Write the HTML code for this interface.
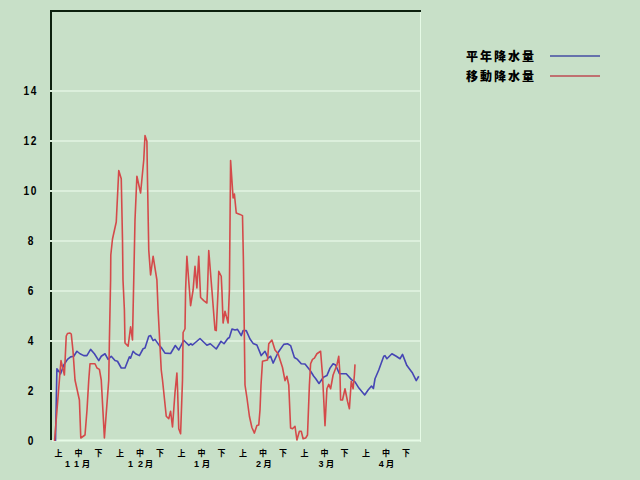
<!DOCTYPE html>
<html><head><meta charset="utf-8"><style>
html,body{margin:0;padding:0;background:#c8e0c8;width:640px;height:480px;overflow:hidden}
svg{display:block}
.yl{font-family:"Liberation Sans",sans-serif;font-weight:bold;font-size:12px;text-anchor:middle;fill:#000}
.xl{font-family:"Liberation Sans","Noto Sans CJK JP",sans-serif;font-weight:bold;font-size:8px;text-anchor:middle;fill:#000}
.md{font-family:"Liberation Sans",sans-serif;font-weight:bold;font-size:9px;text-anchor:middle;fill:#000}
.mo{font-family:"Liberation Sans","Noto Sans CJK JP",sans-serif;font-weight:bold;font-size:8.5px;text-anchor:middle;fill:#000}
.lg{font-family:"Liberation Sans","Noto Sans CJK JP",sans-serif;font-weight:900;font-size:12px;fill:#000;letter-spacing:2px}
</style></head><body>
<svg width="640" height="480" viewBox="0 0 640 480">
<rect width="640" height="480" fill="#c8e0c8"/>
<rect x="52" y="439.5" width="369" height="2" fill="#e6fae6"/>
<rect x="420" y="12" width="1" height="430" fill="#e6fae6"/>
<rect x="50" y="10" width="371" height="2" fill="#0c200e"/>
<rect x="50" y="10" width="2" height="430" fill="#0c200e"/>
<rect x="50" y="390" width="370" height="2" fill="#dcefdc"/><rect x="50" y="340" width="370" height="2" fill="#dcefdc"/><rect x="50" y="290" width="370" height="2" fill="#dcefdc"/><rect x="50" y="240" width="370" height="2" fill="#dcefdc"/><rect x="50" y="190" width="370" height="2" fill="#dcefdc"/><rect x="50" y="140" width="370" height="2" fill="#dcefdc"/><rect x="50" y="90" width="370" height="2" fill="#dcefdc"/>
<polyline points="55.5,441 56.9,368.8 60.6,373.8 63.75,365 67.5,359.4 70.6,356.9 73.75,356.25 76.9,351.25 80,353.75 83.75,355.6 86.9,355.6 90.6,349.4 94.4,353.75 98.75,360.6 101.25,356.25 105,353.75 108.1,359.4 111.25,356.25 115,360.6 117.5,361.25 121.25,368 125,368 129.4,356.9 130.6,358.1 133.1,351.25 135.6,353.75 139.4,355.6 143.1,348.75 145,348.1 148.75,336.25 150.6,335.6 153.1,340.6 155,339.4 159.4,345.6 161.25,347.5 165,353.1 170.6,353.5 175.3,345.5 178.75,350 183.75,340.3 188.75,345.3 190.6,343.75 192.5,345 200,338.5 206.9,345.3 210.3,343.75 216.25,349 221,341.25 224,343.75 227.8,338.5 229.4,337.5 232,329 235,330 237.5,329.4 241.25,335.6 243.1,330.6 246.25,330.6 250,339 253.1,343.4 256.9,345 261.25,355.6 265,351.25 268.1,358.1 270.6,356.25 273.1,363.1 278.1,352.5 283.75,344.4 287.5,343.75 290.6,345.6 294.4,357.5 297.5,359.4 301.25,363.75 305,364 310,370.3 313.75,376.25 315.6,378.5 319,383.5 323.4,377.2 326.9,375.6 330,368.1 333.1,363.75 335.6,365 339.4,373.75 346.25,373.75 351.5,379.6 355,381.9 358.9,388.1 364.7,395 368.1,390 371.5,386 373.4,388.5 375,378.75 378.75,370 383.75,356.25 385,355.6 386.9,358.75 391.9,353.75 396.25,356.25 400,358.75 402.5,354.4 406.9,365.6 412.5,373.1 416.25,380.6 418.75,376.25" fill="none" stroke="#4646b4" stroke-width="1.6" stroke-linejoin="round"/>
<polyline points="54.5,441 57,410 59.4,380 61,360.6 64.4,375 66.25,336 67.5,333.5 70,333 71.25,334 73,351 75,380 79.4,400 80.8,438 85,435 87,410 88.75,380 90,363.75 91.25,363.75 95,363.75 97,368 99.4,369.4 101.25,380 104.4,438 108.75,380 109.4,340 110.6,280 110.8,255 112.5,239 116.25,222 118.75,170.6 121.25,178.75 122.5,240 123,280 124.4,310 125,343 128.1,346.25 130.6,326.9 132.5,340 133.1,310 133.75,280 135,220 136.9,176.25 140.6,193 143.75,160 145,135.6 146.9,141.25 147.5,180 148.75,250 150.6,275 153.1,256.25 156.9,280 158.1,310 161.25,370 162.5,380 166.25,416.25 168.75,418.75 170.6,411.25 172.5,427 175,392.5 176.9,373.1 177.6,390 178.75,428.75 180.6,433.75 182.5,380 183.1,332.5 185,328.75 185.6,290 186.9,256.25 190.6,305.6 193.1,290 195,266.25 196.9,288 198.75,256.25 200.6,297.5 203.75,300.6 206.9,303 207.5,290 208.75,250.6 211.9,290 215,330 216.25,330.6 218.1,290 218.75,271.25 221.25,276.25 221.9,290 223.1,323 225,311.25 228.1,323 229.4,290 230.6,160.6 233.1,198 234.4,194 236.25,213 240,214.4 242.5,215.6 243.4,260 244.4,340 245,385 246.9,397.5 249.4,416.25 251.9,427.5 254.4,433.1 256.9,425.6 258.75,425 260,410 261,385 262.5,361.25 267.5,360 268.75,343.75 271.9,340 275,350 278.1,353.75 282.5,367.5 285,380.6 286.9,376.25 288.75,385 290.6,428 292.5,428.75 295,426.25 296.9,440 299.4,431.25 301.25,431.25 303.1,438.75 305.6,438.1 307.5,435 309.4,385 310.6,363.75 312.5,359.4 314.4,358.1 316.9,353.75 320.6,351.25 322.5,375 323.75,400 325,425.6 326.9,388.75 328.75,384.4 330.6,388.75 333.1,375 336.9,365 338.75,356.25 340,375 340.6,400 342.5,400 345,388.75 347.5,401.25 349.4,408.75 351.25,381.25 353.1,388.75 354.4,375 355,364.4" fill="none" stroke="#d44a4a" stroke-width="1.6" stroke-linejoin="round"/>
<text transform="translate(30.5,445) scale(0.85,1)" class="yl">0</text><text transform="translate(30.5,395) scale(0.85,1)" class="yl">2</text><text transform="translate(30.5,345) scale(0.85,1)" class="yl">4</text><text transform="translate(30.5,295) scale(0.85,1)" class="yl">6</text><text transform="translate(30.5,245) scale(0.85,1)" class="yl">8</text><text transform="translate(26.3,195) scale(0.85,1)" class="yl">1</text><text transform="translate(33.6,195) scale(0.85,1)" class="yl">0</text><text transform="translate(26.3,145) scale(0.85,1)" class="yl">1</text><text transform="translate(33.6,145) scale(0.85,1)" class="yl">2</text><text transform="translate(26.3,95) scale(0.85,1)" class="yl">1</text><text transform="translate(33.6,95) scale(0.85,1)" class="yl">4</text>
<text x="58.5" y="455.5" class="xl">上</text><text x="78.5" y="455.5" class="xl">中</text><text x="98.5" y="455.5" class="xl">下</text><text x="120" y="455.5" class="xl">上</text><text x="140" y="455.5" class="xl">中</text><text x="160" y="455.5" class="xl">下</text><text x="181.5" y="455.5" class="xl">上</text><text x="201.5" y="455.5" class="xl">中</text><text x="221.5" y="455.5" class="xl">下</text><text x="243" y="455.5" class="xl">上</text><text x="263" y="455.5" class="xl">中</text><text x="283" y="455.5" class="xl">下</text><text x="304.5" y="455.5" class="xl">上</text><text x="324.5" y="455.5" class="xl">中</text><text x="344.5" y="455.5" class="xl">下</text><text x="366" y="455.5" class="xl">上</text><text x="386" y="455.5" class="xl">中</text><text x="406" y="455.5" class="xl">下</text><text x="67.6" y="467.4" class="md">1</text><text x="76.4" y="467.4" class="md">1</text><text x="86" y="467.2" class="mo">月</text><text x="130.6" y="467.4" class="md">1</text><text x="140.5" y="467.4" class="md">2</text><text x="149.1" y="467.2" class="mo">月</text><text x="196.6" y="467.4" class="md">1</text><text x="206" y="467.2" class="mo">月</text><text x="258.4" y="467.4" class="md">2</text><text x="267.4" y="467.2" class="mo">月</text><text x="321.1" y="467.4" class="md">3</text><text x="330" y="467.2" class="mo">月</text><text x="381.3" y="467.4" class="md">4</text><text x="390" y="467.2" class="mo">月</text>
<text x="466" y="60.5" class="lg">平年降水量</text>
<text x="466" y="80.5" class="lg">移動降水量</text>
<rect x="550" y="55" width="50" height="2" fill="#6672ac"/>
<rect x="550" y="75" width="50" height="2" fill="#c07070"/>
</svg>
</body></html>
